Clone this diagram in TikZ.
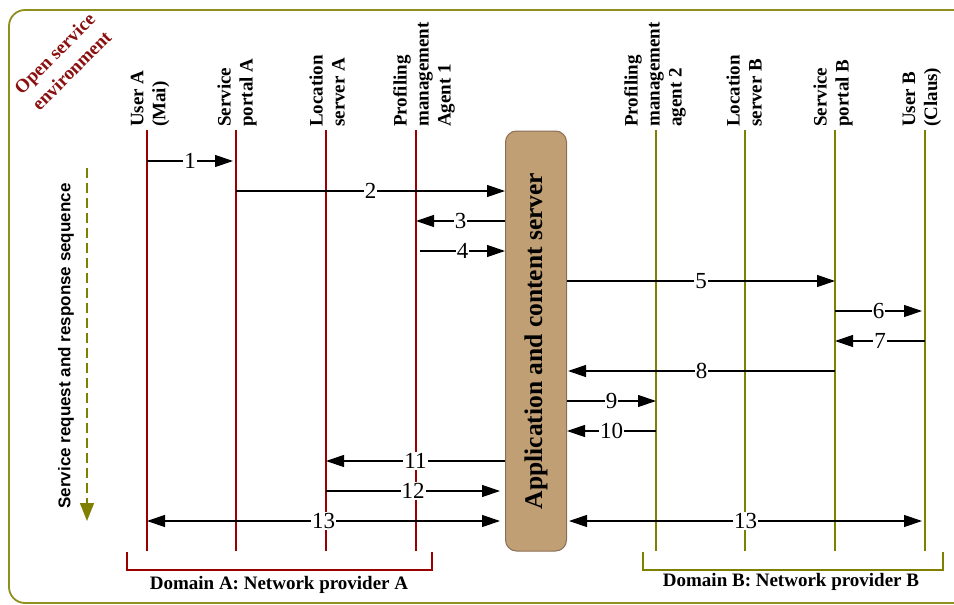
\documentclass[tikz,border=0pt]{standalone}
\usepackage{fontspec}
\setmainfont{Liberation Serif}
\newfontfamily\sansfnt{Liberation Sans}
\usetikzlibrary{arrows.meta}
\definecolor{frameol}{HTML}{8F8F1F}
\definecolor{ol}{HTML}{808000}
\definecolor{dred}{HTML}{9B0000}
\definecolor{txtred}{HTML}{8B1010}
\definecolor{boxtan}{HTML}{C19F74}
\definecolor{boxedge}{HTML}{8B6F55}
\begin{document}
\begin{tikzpicture}[x=1pt,y=-1pt,
  lifeA/.style={draw=dred, line width=1.3pt},
  lifeB/.style={draw=ol, line width=1.3pt},
  tip/.tip={Triangle[length=18pt,width=12pt]},
  msg/.style={line width=1.2pt, -tip},
  msgboth/.style={line width=1.2pt, tip-tip},
  num/.style={fill=white, inner sep=1pt, font=\fontsize{23}{23}\selectfont},
  head/.style={rotate=90, anchor=west, align=left, inner sep=0pt, font=\bfseries\fontsize{19}{22}\selectfont},
  domlbl/.style={font=\bfseries\fontsize{19}{22}\selectfont, inner sep=0pt},
  ]
\useasboundingbox (0,0) rectangle (954,605);
% outer frame
\draw[frameol, line width=1.8pt, rounded corners=16pt] (9,10) rectangle (985,603);
\node[rotate=45, align=center, text=txtred, inner sep=0pt,
      font=\bfseries\fontsize{19}{24}\selectfont] (ose) at (63,62) {Open service\\environment};

% lifeline tops and bottoms
\foreach \n/\x in {uA/147, spA/236, lsA/326, pmA/416, pmB/656, lsB/745, spB/835, uB/925}{
  \coordinate (\n) at (\x,130);
  \coordinate (\n b) at (\x,551);
}
\foreach \n in {uA, spA, lsA, pmA}{ \draw[lifeA] (\n) -- (\n b); }
\foreach \n in {pmB, lsB, spB, uB}{ \draw[lifeB] (\n) -- (\n b); }

% headers
\node[head] (hUA) at (150,127) {User A\\(Mai)};
\node[head] (hSPA) at (237,127) {Service\\portal A};
\node[head] (hLSA) at (327,127) {Location\\server A};
\node[head] (hPMA) at (424,127) {Profiling\\management\\Agent 1};
\node[head] (hPMB) at (655,127) {Profiling\\management\\agent 2};
\node[head] (hLSB) at (744,127) {Location\\server B};
\node[head] (hSPB) at (833,127) {Service\\portal B};
\node[head] (hUB) at (922,127) {User B\\(Claus)};

% server box
\node[draw=boxedge, fill=boxtan, line width=1pt, rounded corners=11pt,
      minimum width=61pt, minimum height=420pt, inner sep=0pt] (srv) at (536,341)
      {\rotatebox{90}{\bfseries\fontsize{25.5}{25.5}\selectfont Application and content server}};

% message levels
\foreach \i in {1,...,13}{ \coordinate (m\i) at (0,{161+30*(\i-1)}); }

\draw[msg] (uA |- m1) -- ([xshift=-3pt]spA |- m1) node[num, midway] {1};
\draw[msg] (spA |- m2) -- (srv.west |- m2) node[num, midway] {2};
\draw[msg] (srv.west |- m3) -- (pmA |- m3) node[num, midway] {3};
\draw[msg] ([xshift=4pt]pmA |- m4) -- (srv.west |- m4) node[num, midway] {4};
\draw[msg] (srv.east |- m5) -- (spB |- m5) node[num, midway] {5};
\draw[msg] (spB |- m6) -- ([xshift=-3pt]uB |- m6) node[num, midway] {6};
\draw[msg] (uB |- m7) -- (spB |- m7) node[num, midway] {7};
\draw[msg] (spB |- m8) -- ([xshift=1pt]srv.east |- m8) node[num, midway] {8};
\draw[msg] (srv.east |- m9) -- (pmB |- m9) node[num, midway] {9};
\draw[msg] (pmB |- m10) -- (srv.east |- m10) node[num, midway] {10};
\draw[msg] (srv.west |- m11) -- (lsA |- m11) node[num, midway] {11};
\draw[msg] (lsA |- m12) -- ([xshift=-5pt]srv.west |- m12) node[num, midway] {12};
\draw[msgboth] (uA |- m13) -- ([xshift=-5pt]srv.west |- m13) node[num, midway] {13};
\draw[msgboth] ([xshift=2pt]srv.east |- m13) -- ([xshift=-3pt]uB |- m13) node[num, midway] {13};

% sequence arrow
\coordinate (seqT) at (87,168);
\coordinate (seqB) at (87,521);
\draw[ol, line width=1.5pt, dash pattern=on 10pt off 5pt,
      -{Triangle[length=18pt,width=14pt]}] (seqT) -- (seqB);
\node[rotate=90, inner sep=0pt, font=\sansfnt\bfseries\fontsize{17}{17}\selectfont] (seqL) at (66,346)
      {Service request and response sequence};

% domain brackets
\draw[dred, line width=1.3pt] (127,552) -- (127,570) -- (432,570) -- (432,552);
\draw[ol, line width=1.3pt] (643,552) -- (643,570) -- (943,570) -- (943,552);
\node[domlbl] (dA) at (279,585) {Domain A: Network provider A};
\node[domlbl] (dB) at (791,582) {Domain B: Network provider B};
\end{tikzpicture}
\end{document}
